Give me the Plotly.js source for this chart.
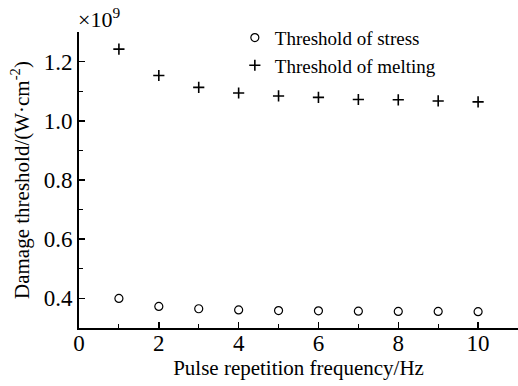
<!DOCTYPE html>
<html>
<head>
<meta charset="utf-8">
<script src="https://cdn.plot.ly/plotly-3.0.1.min.js"></script>
<style>html,body{margin:0;padding:0;background:#fff;}#chart{width:518px;height:386px;}</style>
</head>
<body>
<div id="chart"></div>
<script>
const frequency = [1, 2, 3, 4, 5, 6, 7, 8, 9, 10];
const stressThreshold = [0.400, 0.373, 0.365, 0.361, 0.359, 0.358, 0.357, 0.356, 0.356, 0.355];
const meltingThreshold = [1.242, 1.153, 1.113, 1.094, 1.084, 1.079, 1.072, 1.071, 1.067, 1.064];
const yTickVals = [0.4, 0.6, 0.8, 1.0, 1.2];
const yTickText = ["0.4", "0.6", "0.8", "1.0", "1.2"];
const xTickVals = [0, 2, 4, 6, 8, 10];

const FONT = '"Liberation Serif", "Times New Roman", serif';

const traces = [
  {
    x: frequency, y: stressThreshold, name: 'Threshold of stress',
    type: 'scatter', mode: 'markers',
    marker: {symbol: 'circle-open', size: 8, color: '#000', line: {width: 1.2, color: '#000'}}
  },
  {
    x: frequency, y: meltingThreshold, name: 'Threshold of melting',
    type: 'scatter', mode: 'markers',
    marker: {symbol: 'cross-thin-open', size: 8, color: '#000', line: {width: 1.6, color: '#000'}}
  }
];

const layout = {
  width: 518, height: 386,
  margin: {l: 79, r: 0, t: 32, b: 58},
  paper_bgcolor: '#fff', plot_bgcolor: '#fff',
  font: {family: FONT, color: '#000', size: 20},
  showlegend: true,
  legend: {
    x: 0.355, y: 1.045, xanchor: 'left', yanchor: 'top',
    bgcolor: 'rgba(0,0,0,0)', font: {family: FONT, size: 19, color: '#000'},
    tracegroupgap: 0
  },
  xaxis: {
    range: [0, 11], showgrid: false, zeroline: false,
    showline: true, linecolor: '#000', linewidth: 2,
    ticks: 'inside', ticklen: 6, tickwidth: 1.5, tickcolor: '#000',
    tickmode: 'array', tickvals: xTickVals,
    ticklabelstandoff: -7,
    tickfont: {family: FONT, size: 23, color: '#000'},
    minor: {tickmode: 'linear', tick0: 0, dtick: 1, ticks: 'inside', ticklen: 4, tickcolor: '#000', tickwidth: 1},
    title: {text: 'Pulse repetition frequency/Hz', font: {family: FONT, size: 21, color: '#000'}, standoff: 2}
  },
  yaxis: {
    range: [0.3, 1.3], showgrid: false, zeroline: false,
    showline: true, linecolor: '#000', linewidth: 2,
    ticks: 'inside', ticklen: 6, tickwidth: 1.5, tickcolor: '#000',
    tickmode: 'array', tickvals: yTickVals, ticktext: yTickText,
    tickfont: {family: FONT, size: 23, color: '#000'},
    minor: {tickmode: 'linear', tick0: 0.3, dtick: 0.1, ticks: 'inside', ticklen: 4, tickcolor: '#000', tickwidth: 1},
    title: {text: 'Damage threshold/(W·cm<sup>-2</sup>)', font: {family: FONT, size: 21, color: '#000'}, standoff: 8}
  },
  annotations: [
    {xref: 'paper', yref: 'paper', x: 0, y: 1, xanchor: 'left', yanchor: 'bottom',
     text: '×10<sup>9</sup>', showarrow: false, font: {family: FONT, size: 22, color: '#000'}, xshift: -3, yshift: -2}
  ]
};

Plotly.newPlot('chart', traces, layout, {displayModeBar: false, staticPlot: true});
</script>
</body>
</html>
